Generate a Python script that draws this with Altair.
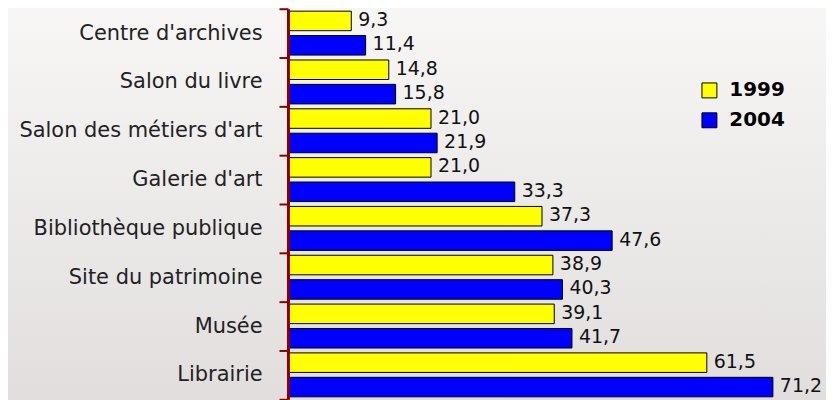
import altair as alt
import pandas as pd

categories = ["Centre d'archives", "Salon du livre", "Salon des métiers d'art",
              "Galerie d'art", "Bibliothèque publique", "Site du patrimoine",
              "Musée", "Librairie"]
values_1999 = [9.3, 14.8, 21.0, 21.0, 37.3, 38.9, 39.1, 61.5]
values_2004 = [11.4, 15.8, 21.9, 33.3, 47.6, 40.3, 41.7, 71.2]
years = ["1999", "2004"]
colors = ["#FFFF00", "#0000FF"]

rows = []
for c, a, b in zip(categories, values_1999, values_2004):
    rows.append({"cat": c, "year": years[0], "val": a, "label": f"{a:.1f}".replace(".", ",")})
    rows.append({"cat": c, "year": years[1], "val": b, "label": f"{b:.1f}".replace(".", ",")})
df = pd.DataFrame(rows)

W, H = 540, 392
PAD_L = 281
FONT = "DejaVu Sans"

bg = alt.Chart(pd.DataFrame({"a": [0]})).mark_rect(
    clip=False,
    color=alt.Gradient(
        gradient="linear", x1=0, y1=0, x2=0, y2=1,
        stops=[alt.GradientStop(color="#f8f7f6", offset=0),
               alt.GradientStop(color="#e1dddd", offset=1)],
    ),
).encode(
    x=alt.value(-PAD_L - 8), x2=alt.value(W + 20),
    y=alt.value(-8), y2=alt.value(H + 8),
)

yenc = alt.Y("cat:N", sort=categories,
             scale=alt.Scale(paddingInner=0, paddingOuter=0),
             axis=alt.Axis(title=None, tickBand="extent", domainColor="#8B0000",
                           domainWidth=3, tickColor="#8B0000", tickWidth=2,
                           tickSize=9, labelPadding=17, labelFontSize=21,
                           labelFont=FONT, labelColor="#222222",
                           labelLimit=300, zindex=2))
xenc = alt.X("val:Q", scale=alt.Scale(domain=[0, 79], nice=False), axis=None)
yoff = alt.YOffset("year:N", sort=years,
                   scale=alt.Scale(paddingInner=0.2, paddingOuter=0.1))

bars = alt.Chart(df).mark_bar(stroke="black", strokeWidth=1).encode(
    y=yenc, x=xenc, yOffset=yoff,
    color=alt.Color("year:N", sort=years,
                    scale=alt.Scale(domain=years, range=colors),
                    legend=alt.Legend(title=None, orient="none", legendX=413, legendY=72,
                                      symbolType="square", symbolSize=225,
                                      symbolStrokeColor="black", symbolStrokeWidth=1,
                                      labelFontSize=20, labelFontWeight="bold",
                                      labelFont=FONT, labelColor="#000000",
                                      rowPadding=10, labelOffset=10)),
)

text = alt.Chart(df).mark_text(align="left", baseline="middle", dx=7, dy=-1,
                               fontSize=19, font=FONT,
                               color="#111111").encode(
    y=yenc, x=xenc, yOffset=yoff, text="label:N",
)

chart = alt.layer(bg, bars, text).properties(
    width=W, height=H,
    autosize=alt.AutoSizeParams(type="none"),
    padding={"left": PAD_L, "top": 0, "right": 0, "bottom": 0},
    background="#f0eeed",
).configure_view(stroke=None)

chart.save("out.html", embed_options={"renderer": "svg", "actions": False})
